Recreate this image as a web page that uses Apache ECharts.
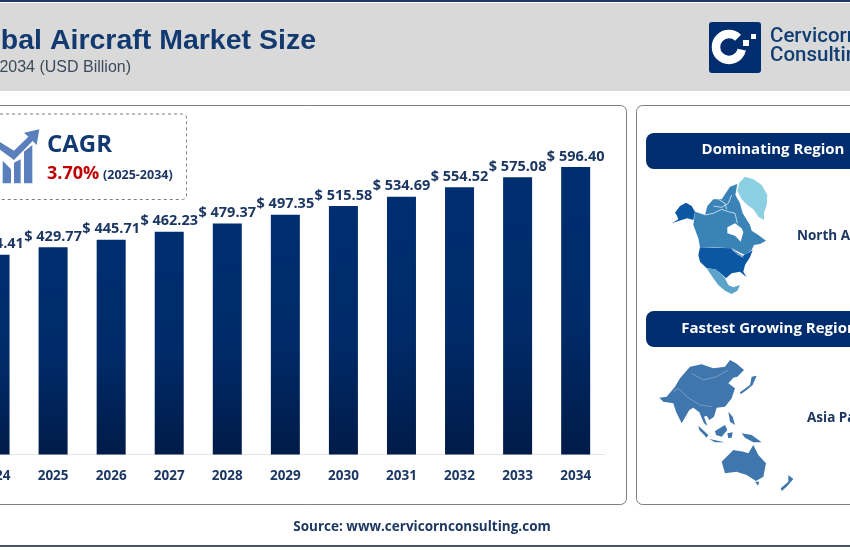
<!DOCTYPE html>
<html>
<head>
<meta charset="utf-8">
<title>Global Aircraft Market Size</title>
<script src="https://cdn.jsdelivr.net/npm/echarts@6/dist/echarts.min.js"></script>
<style>
  html, body { margin: 0; padding: 0; background: #fff; width: 850px; height: 550px; overflow: hidden; }
  /* the reference is cropped on both sides, so the canvas runs past the window */
  #chart { position: absolute; left: -100px; top: 0; width: 1000px; height: 550px; }
</style>
</head>
<body>
<div id="chart"></div>
<script>
const years = ['2024', '2025', '2026', '2027', '2028', '2029', '2030', '2031', '2032', '2033', '2034'];
const marketSize = [414.41, 429.77, 445.71, 462.23, 479.37, 497.35, 515.58, 534.69, 554.52, 575.08, 596.40];

const OFFSET_X = 100;
const NAVY = '#002d6e';
const TEXT_NAVY = '#1c3763';
const FONT = '"Open Sans", sans-serif';

const poly = (ox, oy, fill, points) => ({
  type: 'polygon', x: ox, y: oy, scaleX: 1 / 3, scaleY: 1 / 3,
  shape: { points }, style: { fill }
});
const line = (ox, oy, stroke, points, width) => ({
  type: 'polyline', x: ox, y: oy, scaleX: 1 / 3, scaleY: 1 / 3,
  shape: { points }, style: { stroke, lineWidth: width || 2, fill: 'none' }
});
const label = (x, y, text, font, fill, align) => ({
  type: 'text', x, y,
  style: { text, font, fill, textAlign: align || 'left', textVerticalAlign: 'middle' }
});

const CANADA = '#3a83b7';
const USA = '#0b57a4';
const northAmerica = [
  poly(650, 170, '#8ccfe3', [[262,62],[268,38],[285,20],[310,28],[335,45],[352,75],[350,105],[342,130],[342,150],[325,140],[310,118],[292,105],[275,88]]),
  poly(650, 170, CANADA, [[135,125],[165,135],[172,108],[190,88],[215,88],[240,50],[262,42],[256,75],[270,100],[278,130],[300,165],[305,182],[325,195],[348,212],[330,222],[312,225],[305,240],[285,255],[265,245],[245,235],[190,232],[150,232],[145,205],[130,165]]),
  poly(650, 170, '#ffffff', [[232,172],[255,160],[275,175],[280,187],[272,215],[255,197],[232,190]]),
  line(650, 170, '#ffffff', [[165,135],[190,130],[215,118],[235,125],[255,130],[262,160]], 2),
  line(650, 170, '#ffffff', [[190,108],[215,112],[235,100],[245,75]], 2),
  line(650, 170, '#ffffff', [[205,88],[225,100],[230,118]], 2),
  poly(650, 170, USA, [[75,128],[90,108],[108,98],[125,108],[135,125],[130,150],[112,145],[95,150],[65,160],[85,148],[80,135]]),
  poly(650, 170, USA, [[150,232],[245,235],[262,248],[278,258],[300,245],[308,240],[300,262],[285,285],[280,305],[290,322],[270,305],[245,310],[228,325],[212,310],[195,298],[170,295],[150,275],[145,255]]),
  poly(650, 170, '#5ba3c8', [[170,295],[195,298],[212,310],[225,325],[235,345],[250,352],[270,345],[262,362],[245,372],[225,362],[205,345],[190,325]]),
  line(650, 170, '#ffffff', [[245,237],[262,252],[280,262]], 2)
];

const ASIA = '#3f76ad';
const asiaPacific = [
  poly(650, 355, ASIA, [[28,128],[50,125],[75,95],[90,70],[120,35],[155,28],[190,40],[225,35],[240,15],[258,25],[282,45],[262,65],[250,68],[235,85],[255,100],[245,130],[225,155],[200,158],[192,185],[178,195],[170,182],[162,185],[172,212],[162,205],[148,172],[130,158],[118,165],[95,205],[78,170],[70,145],[40,140]]),
  poly(650, 355, ASIA, [[270,112],[300,90],[305,65],[320,62],[308,90],[290,105],[272,118]]),
  poly(650, 355, ASIA, [[145,212],[175,240],[170,248],[148,225]]),
  poly(650, 355, ASIA, [[178,252],[225,262],[195,262]]),
  poly(650, 355, ASIA, [[195,228],[225,210],[232,225],[215,245],[198,240]]),
  poly(650, 355, ASIA, [[235,170],[248,185],[255,210],[240,200]]),
  poly(650, 355, ASIA, [[232,235],[248,232],[245,248],[235,250]]),
  poly(650, 355, ASIA, [[275,235],[305,240],[335,262],[310,262],[285,248]]),
  poly(650, 355, ASIA, [[215,320],[250,285],[280,290],[295,295],[310,270],[325,300],[348,325],[340,365],[318,378],[290,360],[260,350],[225,355]]),
  poly(650, 355, ASIA, [[315,380],[328,380],[324,392]]),
  poly(650, 355, ASIA, [[415,360],[430,372],[410,395],[395,408],[392,400],[415,380]]),
  line(650, 355, '#8fb0d2', [[70,110],[85,100],[110,125],[150,150],[185,155]], 2),
  line(650, 355, '#8fb0d2', [[125,55],[160,75],[200,65],[235,45]], 2)
];

const logo = [
  { type: 'rect', shape: { x: 709, y: 22, width: 52, height: 51, r: 3 }, style: { fill: NAVY } },
  { type: 'arc', shape: { cx: 729, cy: 47, r: 13, startAngle: -0.8, endAngle: 0.2, clockwise: false }, style: { stroke: '#fff', lineWidth: 8.5, fill: 'none' } },
  { type: 'rect', shape: { x: 751, y: 34, width: 5, height: 5 }, style: { fill: '#fff' } },
  { type: 'rect', shape: { x: 743, y: 40, width: 6, height: 6 }, style: { fill: '#fff' } },
  label(770, 37, 'Cervicorn', '500 20.5px Roboto, sans-serif', '#123f73'),
  label(770, 56, 'Consulting', '500 20.5px Roboto, sans-serif', '#123f73')
];

const ICON = '#5a7fbd';
const cagrIcon = [
  poly(0, 110, ICON, [[8,152],[33,178],[33,220],[8,220]]),
  poly(0, 110, ICON, [[42,158],[62,148],[62,220],[42,220]]),
  poly(0, 110, ICON, [[72,125],[97,105],[97,220],[72,220]]),
  poly(0, 110, ICON, [[-10,90],[42,122],[85,80],[72,68],[118,58],[110,105],[98,93],[42,150],[-10,112]]),
  { type: 'rect', shape: { x: -10, y: 114, width: 196.5, height: 85.5, r: 4 }, style: { fill: 'none', stroke: '#7f7f7f', lineWidth: 1, lineDash: [3, 3] } }
];

const graphics = [
  { type: 'rect', shape: { x: -10, y: 3, width: 1000, height: 88 }, style: { fill: '#d9d9d9' } },
  { type: 'rect', shape: { x: -10, y: 0, width: 1000, height: 2 }, style: { fill: '#1f3864' } },
  { type: 'rect', shape: { x: -10, y: 545, width: 1000, height: 2 }, style: { fill: '#44546a' } },
  { type: 'rect', shape: { x: -10, y: 105.5, width: 636.5, height: 399, r: 6 }, style: { fill: 'none', stroke: '#7f7f7f', lineWidth: 1 } },
  { type: 'rect', shape: { x: 636.5, y: 105.5, width: 230, height: 399, r: 6 }, style: { fill: 'none', stroke: '#7f7f7f', lineWidth: 1 } },
  { type: 'rect', shape: { x: 646, y: 133, width: 220, height: 36, r: 8 }, style: { fill: NAVY } },
  { type: 'rect', shape: { x: 646, y: 311, width: 220, height: 36, r: 8 }, style: { fill: NAVY } },
  label(316, 41, 'Global Aircraft Market Size', 'bold 28.5px "Liberation Sans", sans-serif', '#123a70', 'right'),
  label(131, 68, '2034 (USD Billion)', '16px "Liberation Sans", sans-serif', '#3c4a5c', 'right'),
  label(47, 145, 'CAGR', 'bold 24px ' + FONT, '#123a70'),
  label(47, 174, '3.70%', 'bold 18px ' + FONT, '#c00000'),
  label(103, 175, '(2025-2034)', 'bold 12.5px ' + FONT, TEXT_NAVY),
  label(773, 150, 'Dominating Region', 'bold 15px ' + FONT, '#fff', 'center'),
  label(769, 329, 'Fastest Growing Region', 'bold 15px ' + FONT, '#fff', 'center'),
  label(797, 236, 'North America', 'bold 13.5px ' + FONT, TEXT_NAVY),
  label(807, 418, 'Asia Pacific', 'bold 13.5px ' + FONT, TEXT_NAVY),
  label(422, 527, 'Source: www.cervicornconsulting.com', 'bold 13.5px ' + FONT, TEXT_NAVY, 'center'),
  ...logo,
  ...cagrIcon,
  ...northAmerica,
  ...asiaPacific
];

const myChart = echarts.init(document.getElementById('chart'));
myChart.setOption({
  animation: false,
  backgroundColor: '#fff',
  grid: { left: OFFSET_X - 34, width: 638.7, top: 165.3, height: 289.2 },
  xAxis: {
    type: 'category',
    data: years,
    axisLine: { lineStyle: { color: '#e4e4e4' } },
    axisTick: { show: false },
    axisLabel: { color: TEXT_NAVY, fontFamily: FONT, fontWeight: 'bold', fontSize: 13.5, margin: 15 }
  },
  yAxis: { type: 'value', min: 0, max: 600, show: false },
  series: [{
    type: 'bar',
    data: marketSize,
    barWidth: 29,
    itemStyle: {
      color: new echarts.graphic.LinearGradient(0, 0, 0, 1, [
        { offset: 0, color: '#002e70' },
        { offset: 0.55, color: '#002a68' },
        { offset: 1, color: '#001b48' }
      ])
    },
    label: {
      show: true,
      position: 'top',
      distance: 3,
      color: TEXT_NAVY,
      fontFamily: FONT,
      fontWeight: 'bold',
      fontSize: 14.5,
      formatter: p => '$ ' + p.value.toFixed(2)
    }
  }],
  graphic: [{ type: 'group', x: OFFSET_X, y: 0, children: graphics }]
});
</script>
</body>
</html>
